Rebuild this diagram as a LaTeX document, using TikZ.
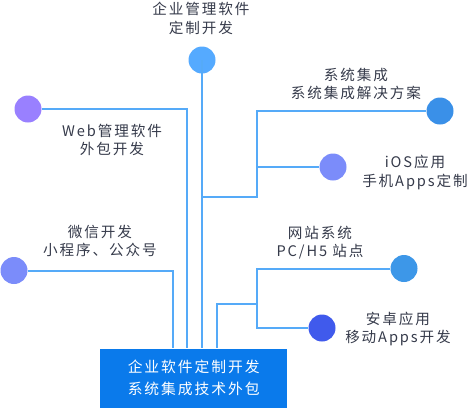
\documentclass[tikz,border=0pt]{standalone}
\usepackage{fontspec}
\setmainfont[LetterSpace=13]{Noto Sans CJK SC}
\definecolor{linec}{HTML}{55AAF8}
\definecolor{boxc}{HTML}{0A7AEB}
\definecolor{txtc}{HTML}{353A4A}
\definecolor{cA}{HTML}{55AAFF}
\definecolor{cB}{HTML}{9980FF}
\definecolor{cC}{HTML}{3A90E8}
\definecolor{cD}{HTML}{7B8CFA}
\definecolor{cE}{HTML}{3D97E8}
\definecolor{cF}{HTML}{405AEC}
\tikzset{
  dot/.style={circle,inner sep=0pt,minimum size=27pt,draw=none},
  conn/.style={linec,line width=2pt},
  lbl/.style={text=txtc,font=\fontsize{14.6pt}{18.5pt}\selectfont,align=center,inner sep=0pt},
}
\begin{document}
\begin{tikzpicture}[x=1pt,y=-1pt]
\useasboundingbox (0,0) rectangle (470,410);
% main box
\node[fill=boxc,minimum width=187pt,minimum height=59.5pt,inner sep=0pt,anchor=north west,text=white,font=\fontsize{14.8pt}{22pt}\selectfont,align=center] (box) at (100,348.3) {企业软件定制开发\\系统集成技术外包};
% dots
\node[dot,fill=cA] (d1) at (202,60) {};
\node[dot,fill=cB] (d2) at (28,109) {};
\node[dot,fill=cC] (d3) at (440,111) {};
\node[dot,fill=cD] (d4) at (333,167) {};
\node[dot,fill=cD] (d5) at (14,270.5) {};
\node[dot,fill=cE] (d6) at (404,268.5) {};
\node[dot,fill=cF] (d7) at (322,328) {};
% junction coordinates
\coordinate (j1) at (257,197);
\coordinate (j2) at (257,304);
% connectors
\draw[conn] (d1.center) -- (box.north west -| d1.center);
\draw[conn] (d2) -- (187,109) -- (187,348.3);
\draw[conn] (d3) -- (257,111) |- (202,197);
\draw[conn] (d4) -- (257,167);
\draw[conn] (d5) -- (173,270.5) -- (173,348.3);
\draw[conn] (d6) -- (257,268.5) |- (d7);
\draw[conn] (j2) -- (217.3,304) -- (217.3,348.3);
% labels
\node[lbl] (t1) at (201,18.5) {企业管理软件\\定制开发};
\node[lbl] (t2) at (112,140) {Web管理软件\\外包开发};
\node[lbl] (t3) at (356,84) {系统集成\\系统集成解决方案};
\node[lbl] (t4) at (415,172.5) {iOS应用\\手机Apps定制};
\node[lbl] (t5) at (100,241) {微信开发\\小程序、公众号};
\node[lbl] (t6) at (320,242.5) {网站系统\\PC/H5 站点};
\node[lbl] (t7) at (398,329) {安卓应用\\移动Apps开发};
\end{tikzpicture}
\end{document}
